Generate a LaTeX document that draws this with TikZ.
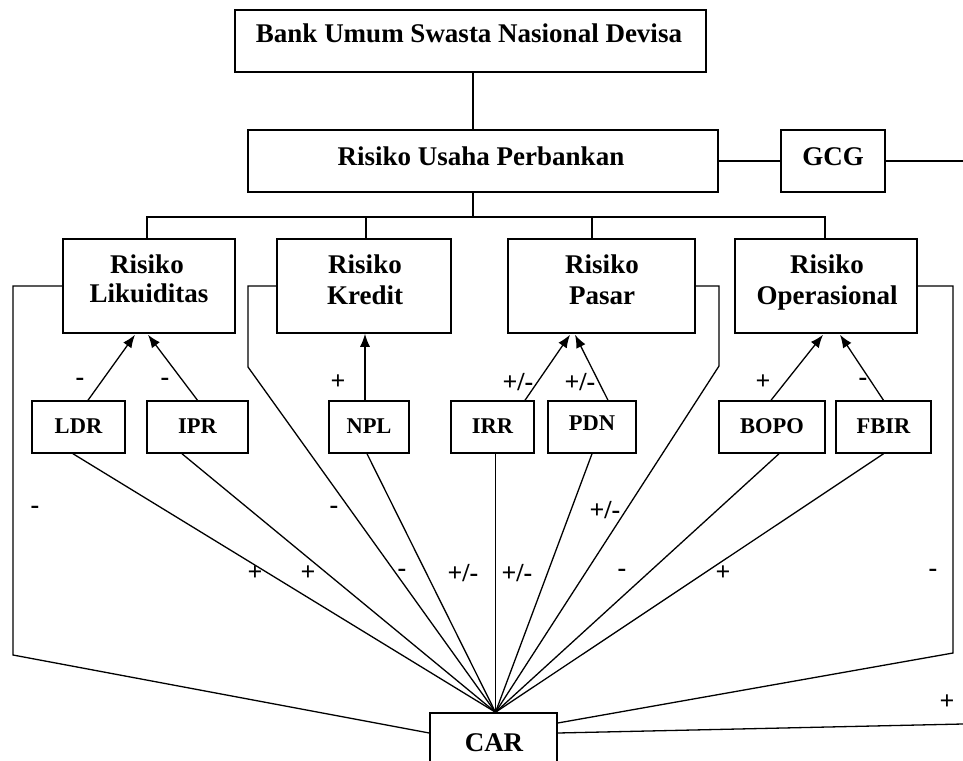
\documentclass[tikz,border=0pt]{standalone}
\usepackage{fontspec}
\setmainfont{Liberation Serif}
\usetikzlibrary{arrows.meta}
\begin{document}
\begin{tikzpicture}[x=1pt,y=-1pt,
 box/.style={draw,line width=1.5pt,inner sep=0pt},
 conn/.style={line width=1.3pt},
 arr/.style={conn,-{Latex[length=13pt,width=10pt]}},
 big/.style={font=\fontsize{27}{31}\selectfont\bfseries, inner sep=0pt, anchor=base},
 small/.style={font=\fontsize{22.5}{26}\selectfont\bfseries, inner sep=0pt, anchor=base},
 sign/.style={font=\fontsize{26}{30}\selectfont\bfseries, inner sep=0pt}]
\useasboundingbox (0,0) rectangle (963,760);
% boxes
\node[box, minimum width=471pt, minimum height=62pt] (top) at (470.5,41) {};
\node[box, minimum width=470pt, minimum height=62pt] (RUP) at (483,161) {};
\node[box, minimum width=104pt, minimum height=62pt] (GCG) at (833,161) {};
\node[box, minimum width=172pt, minimum height=94pt] (Lik) at (149,286) {};
\node[box, minimum width=174pt, minimum height=94pt] (Kre) at (364,286) {};
\node[box, minimum width=187pt, minimum height=94pt] (Pas) at (601.5,286) {};
\node[box, minimum width=182pt, minimum height=94pt] (Ope) at (826,286) {};
\node[box, minimum width=93pt, minimum height=52pt] (LDR) at (78.5,427) {};
\node[box, minimum width=101pt, minimum height=52pt] (IPR) at (197.5,427) {};
\node[box, minimum width=80pt, minimum height=52pt] (NPL) at (369,427) {};
\node[box, minimum width=83pt, minimum height=52pt] (IRR) at (492.5,427) {};
\node[box, minimum width=88pt, minimum height=52pt] (PDN) at (592,427) {};
\node[box, minimum width=106pt, minimum height=52pt] (BOPO) at (772,427) {};
\node[box, minimum width=95pt, minimum height=52pt] (FBIR) at (883.5,427) {};
\node[box, minimum width=127pt, minimum height=70pt] (CAR) at (493.5,748) {};
% texts
\node[big] (ttop) at (469,42) {Bank Umum Swasta Nasional Devisa};
\node[big] (tRUP) at (481,165) {Risiko Usaha Perbankan};
\node[big] (tGCG) at (833,165) {GCG};
\node[big] (tLik1) at (147,273) {Risiko};
\node[big] (tLik2) at (149,302) {Likuiditas};
\node[big] (tKre1) at (365,273) {Risiko};
\node[big] (tKre2) at (365,304) {Kredit};
\node[big] (tPas1) at (602,273) {Risiko};
\node[big] (tPas2) at (602,304) {Pasar};
\node[big] (tOpe1) at (827,273) {Risiko};
\node[big] (tOpe2) at (827,304) {Operasional};
\node[small] (tLDR) at (78.5,433) {LDR};
\node[small] (tIPR) at (197.5,433) {IPR};
\node[small] (tNPL) at (369,433) {NPL};
\node[small] (tIRR) at (492.5,433) {IRR};
\node[small] (tPDN) at (592,430) {PDN};
\node[small] (tBOPO) at (772,433) {BOPO};
\node[small] (tFBIR) at (883.5,433) {FBIR};
\node[big] (tCAR) at (494,751) {CAR};
% tree connectors
\coordinate (bus) at (473,217);
\draw[conn] ([xshift=2.5pt]top.south) -- ([xshift=-10pt]RUP.north);
\draw[conn] ([xshift=-10pt]RUP.south) -- (bus);
\draw[conn] ([xshift=-2pt]Lik.north) |- (bus);
\draw[conn] ([xshift=2pt]Kre.north) |- (bus);
\draw[conn] ([xshift=-9.5pt]Pas.north) |- (bus);
\draw[conn] ([xshift=-1pt]Ope.north) |- (bus);
\draw[conn] (RUP.east) -- (GCG.west);
\coordinate (gr) at (963,161);
\draw[conn] (GCG.east) -- (gr);
% arrows
\draw[arr] ([xshift=9.5pt]LDR.north) -- ([xshift=-14pt,yshift=-1pt]Lik.south);
\draw[arr] (IPR.north) -- ([xshift=-1pt,yshift=-1pt]Lik.south);
\coordinate (npltop) at ([xshift=-4pt]NPL.north);
\draw[arr] (npltop) -- (npltop |- Kre.south);
\draw[arr] ([xshift=32.5pt]IRR.north) -- ([xshift=-31.5pt,yshift=-1pt]Pas.south);
\draw[arr] ([xshift=16pt]PDN.north) -- ([xshift=-26.5pt,yshift=-1pt]Pas.south);
\draw[arr] ([xshift=-1pt]BOPO.north) -- ([xshift=-3pt,yshift=-1pt]Ope.south);
\draw[arr] (FBIR.north) -- ([xshift=14pt,yshift=-1pt]Ope.south);
% fan to CAR
\coordinate (fan) at ([xshift=2pt]CAR.north);
\draw[conn] ([xshift=-5.5pt]LDR.south) -- (fan);
\draw[conn] ([xshift=-15.5pt]IPR.south) -- (fan);
\draw[conn] ([xshift=-2pt]NPL.south) -- (fan);
\draw[conn] ([xshift=3pt]IRR.south) -- (fan);
\draw[conn] (PDN.south) -- (fan);
\draw[conn] ([xshift=7pt]BOPO.south) -- (fan);
\draw[conn] (FBIR.south) -- (fan);
\coordinate (kb) at (248,367);
\coordinate (pb) at (719,366);
\coordinate (lb) at (13,655);
\coordinate (ob) at (953,653);
\coordinate (cr) at (963,724);
\draw[conn] (Kre.west) -| (kb) -- (fan);
\draw[conn] (Pas.east) -| (pb) -- (fan);
\draw[conn] (Lik.west) -| (lb) -- ([yshift=15pt]CAR.west);
\draw[conn] (Ope.east) -| (ob) -- ([yshift=25pt]CAR.east);
\draw[conn] ([yshift=15pt]CAR.east) -- (cr);
% signs
\node[sign] (s1) at (80,382) {-};
\node[sign] (s2) at (165,382) {-};
\node[sign] (s3) at (338,382) {+};
\node[sign] (s4) at (518,382) {+/-};
\node[sign] (s5) at (580,382) {+/-};
\node[sign] (s6) at (763,382) {+};
\node[sign] (s7) at (863,382) {-};
\node[sign] (s8) at (35,510) {-};
\node[sign] (s9) at (334,510) {-};
\node[sign] (s10) at (605,510) {+/-};
\node[sign] (s11) at (255,573) {+};
\node[sign] (s12) at (308,573) {+};
\node[sign] (s13) at (402,573) {-};
\node[sign] (s14) at (463,573) {+/-};
\node[sign] (s15) at (517,573) {+/-};
\node[sign] (s16) at (622,573) {-};
\node[sign] (s17) at (723,573) {+};
\node[sign] (s18) at (933,573) {-};
\node[sign] (s19) at (947,702) {+};
\end{tikzpicture}
\end{document}
